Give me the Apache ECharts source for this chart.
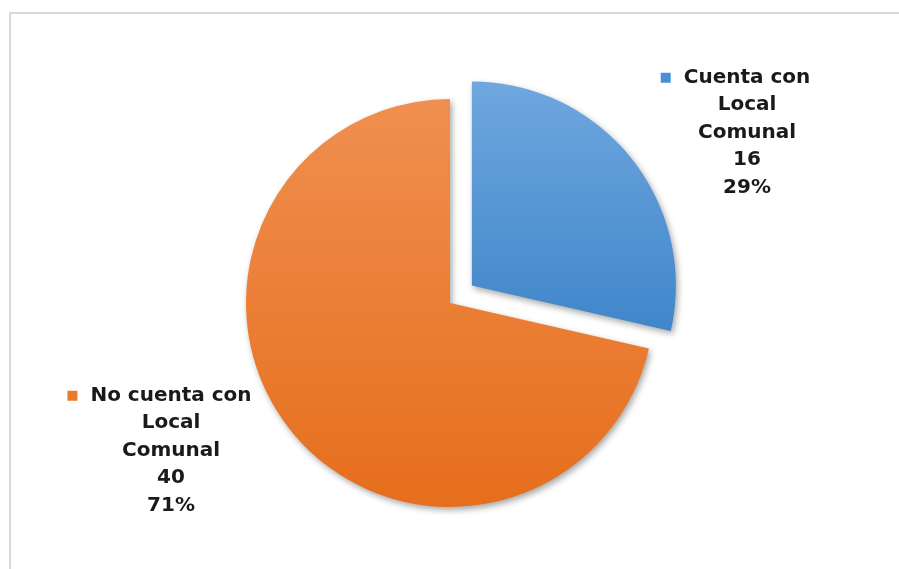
<!DOCTYPE html>
<html>
<head>
<meta charset="utf-8">
<script src="https://cdn.jsdelivr.net/npm/echarts@6/dist/echarts.min.js"></script>
<style>html,body{margin:0;padding:0;background:#fff}#c{width:899px;height:569px}</style>
</head>
<body>
<div id="c"></div>
<script>
const categories = ['Cuenta con\nLocal\nComunal', 'No cuenta con\nLocal\nComunal'];
const values = [16, 40];
const percents = ['29%', '71%'];
const exploded = [true, false];

const gradients = [
  ['#6fa7de', '#3f86ca'],
  ['#f08f50', '#e66e1c']
];
const markerColors = ['#4a8fd4', '#ec7a2c'];

const baseCenter = [450, 303];
const explodeDist = 28;
const labelPos = [
  { x: 747, y: 64 },
  { x: 171, y: 382 }
];

const chart = echarts.init(document.getElementById('c'));
const total = values.reduce((a, b) => a + b, 0);

// compute the explode direction of each slice (start at 12 o'clock, clockwise)
let acc = 0;
const centers = values.map((v, i) => {
  const mid = (acc + v / 2) / total * 2 * Math.PI;
  acc += v;
  const d = exploded[i] ? explodeDist : 0;
  return [baseCenter[0] + d * Math.sin(mid), baseCenter[1] - d * Math.cos(mid)];
});

const series = categories.map((_, k) => ({
  type: 'pie',
  center: centers[k],
  radius: 204,
  startAngle: 90,
  clockwise: true,
  avoidLabelOverlap: false,
  selectedMode: false,
  silent: true,
  emphasis: { disabled: true },
  labelLine: { show: false },
  data: categories.map((c, i) => {
    const visible = i === k;
    return {
      name: c,
      value: values[i],
      itemStyle: visible ? {
        color: new echarts.graphic.LinearGradient(0, 0, 0, 1, [
          { offset: 0, color: gradients[i][0] },
          { offset: 1, color: gradients[i][1] }
        ]),
        shadowBlur: 6,
        shadowOffsetX: 2,
        shadowOffsetY: 3,
        shadowColor: 'rgba(0,0,0,0.35)'
      } : { color: 'rgba(0,0,0,0)', shadowBlur: 0, shadowColor: 'rgba(0,0,0,0)' },
      label: { show: visible }
    };
  }),
  label: {
    position: 'outside',
    fontFamily: 'DejaVu Sans',
    fontWeight: 'bold',
    fontSize: 20,
    lineHeight: 27.5,
    color: '#1a1a1a',
    align: 'center',
    formatter: function (p) {
      const lines = p.name.split('\n');
      const first = '{sq' + p.dataIndex + '|}{gap|}' + lines[0] + '{sp|}';
      return [first].concat(lines.slice(1)).concat([String(values[p.dataIndex]), percents[p.dataIndex]]).join('\n');
    },
    rich: {
      sq0: { backgroundColor: markerColors[0], width: 10, height: 10 },
      sq1: { backgroundColor: markerColors[1], width: 10, height: 10 },
      gap: { width: 13 },
      sp: { width: 23 }
    }
  },
  labelLayout: function (p) {
    const pos = labelPos[p.dataIndex];
    return { x: pos.x, y: pos.y, align: 'center', verticalAlign: 'top' };
  }
}));

chart.setOption({
  backgroundColor: '#ffffff',
  animation: false,
  graphic: [{
    type: 'polyline',
    shape: { points: [[10, 569], [10, 13], [899, 13]] },
    style: { stroke: '#d9d9d9', lineWidth: 2, fill: null }
  }],
  series: series
});
</script>
</body>
</html>
